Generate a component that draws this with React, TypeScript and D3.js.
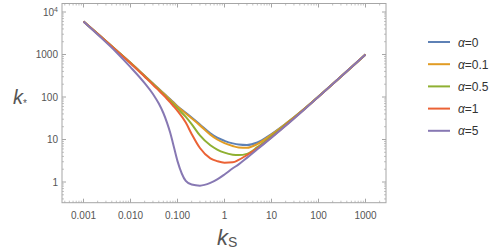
import React from "react";
import * as d3 from "d3";

const ksValues = [0.001, 0.002, 0.005, 0.01, 0.02, 0.03, 0.04, 0.05, 0.06, 0.07, 0.08, 0.1, 0.15, 0.2, 0.3, 0.5, 0.7, 1, 1.5, 2, 3, 5, 10, 20, 50, 100, 1000];

const alpha0 = [6000, 3080, 1260, 640, 316, 209, 156, 124, 103, 88, 77, 61, 42.5, 33, 22.5, 14, 11, 9.3, 8.1, 7.6, 7.4, 8.5, 13.5, 23.5, 53, 103, 1000];
const alpha01 = [6000, 3075, 1257, 637, 314, 207, 154, 122, 101, 86, 75, 59, 41, 31.5, 21.5, 13, 10, 8.2, 7.0, 6.5, 6.4, 7.8, 13, 23.3, 53, 103, 1000];
const alpha05 = [6000, 3070, 1250, 630, 308, 202, 149, 117, 96, 81, 70, 54, 34, 23, 12.5, 7.3, 5.8, 4.9, 4.4, 4.3, 4.6, 6.6, 12, 22.5, 52.5, 102.5, 1000];
const alpha1 = [6000, 3060, 1240, 622, 300, 195, 142, 111, 90, 75, 63, 47, 25, 13.5, 6.3, 3.6, 3.1, 2.85, 2.9, 3.3, 4.3, 6.2, 11.3, 21.5, 51.5, 101.5, 1000];
const alpha5 = [6000, 2950, 1130, 505, 212, 118, 70, 42, 24.7, 14.4, 8.2, 3.1, 1.06, 0.87, 0.82, 0.95, 1.15, 1.5, 2.1, 2.6, 3.7, 5.9, 11, 21, 51, 101, 1000];

const seriesNames = ["α=0", "α=0.1", "α=0.5", "α=1", "α=5"];
const seriesValues = [alpha0, alpha01, alpha05, alpha1, alpha5];
const colors = ["#5E81B5", "#E19C24", "#8FB032", "#EB6235", "#8778B3"];

const xTicks = [0.001, 0.01, 0.1, 1, 10, 100, 1000];
const xTickLabels = ["0.001", "0.010", "0.100", "1", "10", "100", "1000"];
const yTicks = [1, 10, 100, 1000, 10000];
const yTickLabels = ["1", "10", "100", "1000", "10^4"];

const W = 498, H = 251;
const frame = { left: 62, right: 386, top: 3.5, bottom: 202.7 };

export default function App() {
  const x = d3.scaleLog().domain([0.001, 1000]).range([83.5, 365.5]);
  const y = d3.scaleLog().domain([1, 10000]).range([182, 12]);
  const xMin = x.invert(frame.left), xMax = x.invert(frame.right);
  const yMin = y.invert(frame.bottom), yMax = y.invert(frame.top);

  const minorX: number[] = [];
  for (let e = -4; e <= 3; e++) for (let m = 2; m <= 9; m++) {
    const v = m * Math.pow(10, e);
    if (v > xMin && v < xMax) minorX.push(v);
  }
  const minorY: number[] = [];
  for (let e = -1; e <= 4; e++) for (let m = 2; m <= 9; m++) {
    const v = m * Math.pow(10, e);
    if (v > yMin && v < yMax) minorY.push(v);
  }

  const line = d3.line<number>()
    .x((_, i) => x(ksValues[i]))
    .y((d) => y(d))
    .curve(d3.curveMonotoneX);

  const tickColor = "#a6a6a6";
  const labelColor = "#555";
  const font = "'Liberation Sans', Arial, sans-serif";

  return (
    <svg width={W} height={H} style={{ position: "absolute", left: 0, top: 0 }} fontFamily={font}>
      <rect x={0} y={0} width={W} height={H} fill="white" />
      <rect x={frame.left} y={frame.top} width={frame.right - frame.left} height={frame.bottom - frame.top}
        fill="none" stroke={tickColor} strokeWidth={1} />
      {xTicks.map((t) => (
        <g key={"xt" + t}>
          <line x1={x(t)} x2={x(t)} y1={frame.bottom} y2={frame.bottom - 4} stroke={tickColor} />
          <line x1={x(t)} x2={x(t)} y1={frame.top} y2={frame.top + 4} stroke={tickColor} />
        </g>
      ))}
      {minorX.map((t) => (
        <g key={"xm" + t}>
          <line x1={x(t)} x2={x(t)} y1={frame.bottom} y2={frame.bottom - 2} stroke={tickColor} strokeWidth={0.7} />
          <line x1={x(t)} x2={x(t)} y1={frame.top} y2={frame.top + 2} stroke={tickColor} strokeWidth={0.7} />
        </g>
      ))}
      {yTicks.map((t) => (
        <g key={"yt" + t}>
          <line x1={frame.left} x2={frame.left + 4} y1={y(t)} y2={y(t)} stroke={tickColor} />
          <line x1={frame.right} x2={frame.right - 4} y1={y(t)} y2={y(t)} stroke={tickColor} />
        </g>
      ))}
      {minorY.map((t) => (
        <g key={"ym" + t}>
          <line x1={frame.left} x2={frame.left + 2} y1={y(t)} y2={y(t)} stroke={tickColor} strokeWidth={0.7} />
          <line x1={frame.right} x2={frame.right - 2} y1={y(t)} y2={y(t)} stroke={tickColor} strokeWidth={0.7} />
        </g>
      ))}
      {xTicks.map((t, i) => (
        <text key={"xl" + t} x={x(t)} y={frame.bottom + 16} textAnchor="middle" fontSize={10} fill={labelColor}>
          {xTickLabels[i]}
        </text>
      ))}
      {yTicks.map((t, i) => {
        const lab = yTickLabels[i];
        if (lab.includes("^")) {
          const [b, e] = lab.split("^");
          return (
            <text key={"yl" + t} x={frame.left - 4} y={y(t) + 3.5} textAnchor="end" fontSize={10} fill={labelColor}>
              {b}<tspan dy={-4} fontSize={7}>{e}</tspan>
            </text>
          );
        }
        return (
          <text key={"yl" + t} x={frame.left - 4} y={y(t) + 3.5} textAnchor="end" fontSize={10} fill={labelColor}>
            {lab}
          </text>
        );
      })}
      {seriesValues.map((vals, i) => (
        <path key={"s" + i} d={line(vals) || ""} fill="none" stroke={colors[i]} strokeWidth={2} />
      ))}
      <text x={217} y={245} fontSize={22} fontStyle="italic" fill={labelColor}>
        k<tspan fontSize={14} dy={2} fontStyle="normal">S</tspan>
      </text>
      <text x={13} y={104} fontSize={20} fontStyle="italic" fill={labelColor}>
        k<tspan fontSize={10} dy={3} fontStyle="normal">*</tspan>
      </text>
      {seriesNames.map((name, i) => {
        const ly = 42 + i * 22.2;
        return (
          <g key={"lg" + i}>
            <line x1={428} x2={450} y1={ly} y2={ly} stroke={colors[i]} strokeWidth={2} />
            <text x={458} y={ly + 4.5} fontSize={12} fill="#333">
              <tspan fontStyle="italic">α</tspan>{name.slice(1)}
            </text>
          </g>
        );
      })}
    </svg>
  );
}
